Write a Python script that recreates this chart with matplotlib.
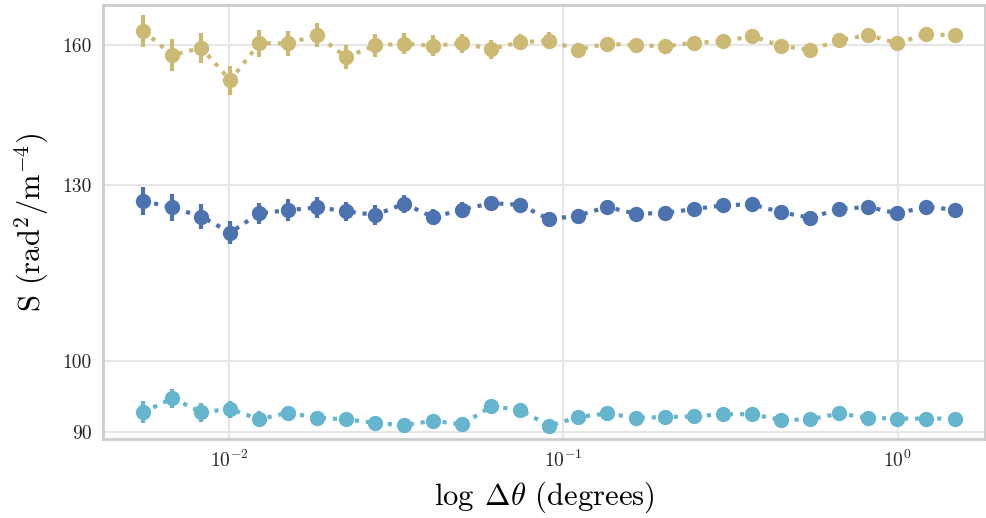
import matplotlib
matplotlib.use("Agg")
import matplotlib.pyplot as plt
from matplotlib.ticker import FixedLocator, FixedFormatter, NullLocator

# angular separation bins (degrees)
sep_deg = [0.00554, 0.00677, 0.00826, 0.01009, 0.01232, 0.01504, 0.01836,
           0.02242, 0.02737, 0.03342, 0.04081, 0.04983, 0.06084, 0.07428,
           0.09070, 0.1107, 0.1352, 0.1651, 0.2015, 0.2460, 0.3004, 0.3668,
           0.4478, 0.5468, 0.6676, 0.8151, 0.9952, 1.215, 1.483]

# structure function, top band
s_high = [163.5, 157.7, 159.4, 151.9, 160.5, 160.5, 162.5, 157.2, 160.0,
          160.4, 159.9, 160.5, 159.1, 160.8, 161.1, 159.0, 160.4, 160.0,
          159.8, 160.6, 161.0, 162.2, 159.9, 158.9, 161.2, 162.5, 160.5,
          162.7, 162.4]
err_high = [3.9, 3.8, 3.6, 3.2, 3.3, 3.0, 2.9, 2.8, 2.7, 2.5, 2.5, 2.2, 2.2,
            2.0, 2.0, 1.4, 1.3, 1.3, 1.2, 1.2, 1.1, 1.1, 1.0, 1.0, 0.9, 0.9,
            0.8, 0.8, 0.7]

# middle band
s_mid = [126.9, 125.7, 124.0, 121.1, 124.6, 125.2, 125.7, 125.0, 124.3,
         126.4, 123.9, 125.3, 126.5, 126.2, 123.5, 124.2, 125.8, 124.5,
         124.7, 125.4, 126.1, 126.3, 124.8, 123.8, 125.4, 125.8, 124.6,
         125.8, 125.3]
err_mid = [2.6, 2.5, 2.3, 2.1, 2.0, 2.0, 1.9, 1.8, 1.8, 1.7, 1.5, 1.5, 1.3,
           1.2, 1.2, 1.1, 1.0, 1.0, 0.9, 0.9, 0.9, 0.8, 0.8, 0.8, 0.7, 0.7,
           0.7, 0.6, 0.6]

# bottom band
s_low = [92.7, 94.6, 92.7, 93.1, 91.7, 92.6, 91.9, 91.7, 91.2, 90.9, 91.5,
         91.0, 93.5, 93.0, 90.8, 92.0, 92.5, 91.9, 92.0, 92.1, 92.4, 92.4,
         91.6, 91.7, 92.5, 91.9, 91.8, 91.8, 91.8]
err_low = [1.5, 1.3, 1.3, 1.2, 1.1, 1.0, 0.9, 0.8, 0.8, 0.7, 0.7, 0.7, 0.6,
           0.6, 0.6, 0.5, 0.5, 0.5, 0.5, 0.5, 0.4, 0.4, 0.4, 0.4, 0.4, 0.4,
           0.4, 0.4, 0.4]

y_ticks = [90, 100, 130, 160]
x_ticks = [0.01, 0.1, 1.0]
x_tick_labels = [r"$10^{-2}$", r"$10^{-1}$", r"$10^{0}$"]

plt.rcParams["font.family"] = "serif"
plt.rcParams["font.serif"] = ["cmr10"]
plt.rcParams["mathtext.fontset"] = "cm"
plt.rcParams["axes.formatter.use_mathtext"] = True

fig = plt.figure(figsize=(9.87, 5.18), dpi=100)
ax = fig.add_axes([0.1044, 0.1525, 0.8936, 0.8385])

series = [
    (s_high, err_high, "#CCB974"),
    (s_mid, err_mid, "#4C72B0"),
    (s_low, err_low, "#64B5CD"),
]
for vals, errs, col in series:
    ax.errorbar(sep_deg, vals, yerr=errs, fmt="o", ls=":", color=col,
                ms=10, lw=3, elinewidth=3, capsize=0, zorder=3)

ax.set_xscale("log")
ax.set_yscale("log")
ax.set_xlim(0.0042, 1.824)
ax.set_ylim(89.05, 170)

ax.yaxis.set_major_locator(FixedLocator(y_ticks))
ax.yaxis.set_major_formatter(FixedFormatter([str(t) for t in y_ticks]))
ax.yaxis.set_minor_locator(NullLocator())
ax.xaxis.set_major_locator(FixedLocator(x_ticks))
ax.xaxis.set_major_formatter(FixedFormatter(x_tick_labels))
ax.xaxis.set_minor_locator(NullLocator())

ax.grid(True, color="#e6e6e6", lw=1.5, zorder=0)
ax.set_axisbelow(True)
for sp in ax.spines.values():
    sp.set_color("#cccccc")
    sp.set_linewidth(2)
ax.tick_params(length=0, labelsize=14, pad=8, colors="#262626")

ax.set_xlabel(r"$\log\;\Delta\theta$ (degrees)", fontsize=22, labelpad=6)
ax.set_ylabel(r"S (rad$^2$/m$^{-4}$)", fontsize=22, labelpad=8)

fig.savefig("out.png", dpi=100)
